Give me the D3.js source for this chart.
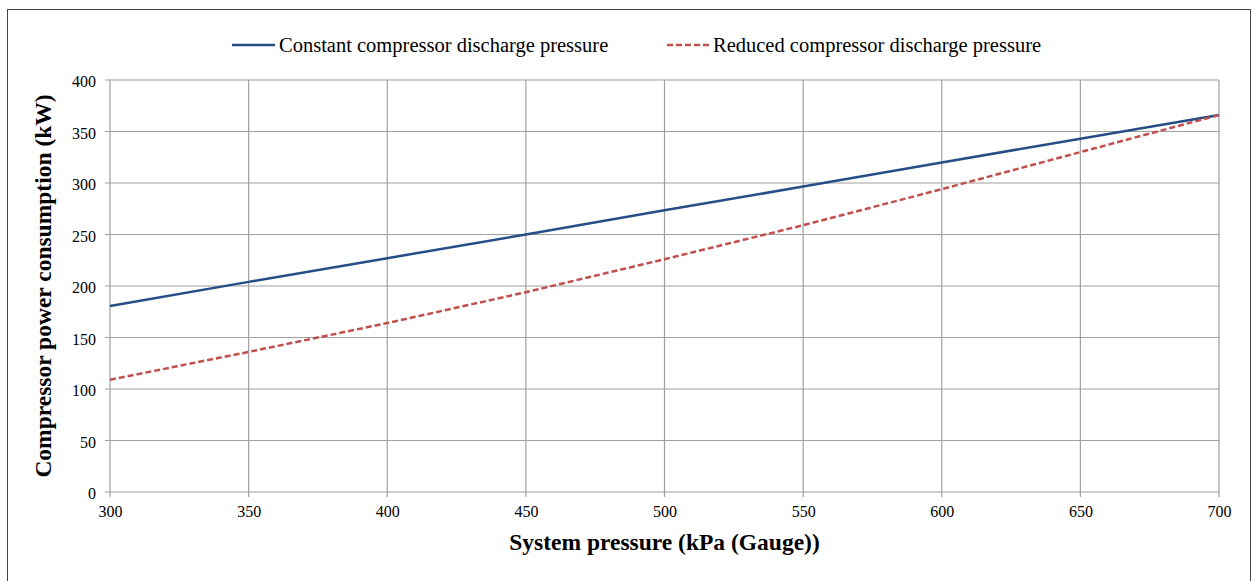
<!DOCTYPE html>
<meta charset="utf-8">
<style>
    body { margin: 0; background: #fff; }
    text { font-family: "Liberation Serif", "Times New Roman", serif; fill: #000; }
    .grid line { stroke: #a0a0a0; stroke-width: 1.2; }
</style>
<body>
<script src="https://d3js.org/d3.v7.min.js"></script>
<svg width="1260" height="581"></svg>
<script>
    // data
    var pressure = [300, 350, 400, 450, 500, 550, 600, 650, 700];
    var constantPower = [180.5, 204, 227, 250, 273.5, 296.5, 320, 343, 366];
    var reducedPower = [109, 136, 164, 194, 226, 259, 294, 330, 366];
    var xTicks = [300, 350, 400, 450, 500, 550, 600, 650, 700];
    var yTicks = [0, 50, 100, 150, 200, 250, 300, 350, 400];
    var seriesNames = ["Constant compressor discharge pressure", "Reduced compressor discharge pressure"];

    var svg = d3.select("svg");

    // outer frame
    svg.append("rect")
        .attr("x", 7.5).attr("y", 9.5)
        .attr("width", 1243).attr("height", 580)
        .attr("fill", "none").attr("stroke", "#444").attr("stroke-width", 1);

    var pLeft = 110, pRight = 1219, pTop = 80, pBottom = 492;
    var x = d3.scaleLinear().domain([300, 700]).range([pLeft, pRight]);
    var y = d3.scaleLinear().domain([0, 400]).range([pBottom, pTop]);

    // gridlines
    var grid = svg.append("g").attr("class", "grid");
    grid.selectAll(".h").data(yTicks).enter().append("line")
        .attr("x1", pLeft - 5).attr("x2", pRight)
        .attr("y1", function(d) { return y(d); }).attr("y2", function(d) { return y(d); });
    grid.selectAll(".v").data(xTicks).enter().append("line")
        .attr("x1", function(d) { return x(d); }).attr("x2", function(d) { return x(d); })
        .attr("y1", pTop).attr("y2", pBottom + 5);

    // axes (labels only, lines come from grid)
    var yAxis = svg.append("g")
        .attr("transform", "translate(96,0)")
        .call(d3.axisLeft(y).tickValues(yTicks).tickSize(0).tickPadding(0));
    yAxis.select(".domain").remove();
    yAxis.selectAll("text")
        .attr("x", 0)
        .attr("dy", "0.42em")
        .style("font-size", "16px").style("font-family", "Liberation Serif");

    var xAxis = svg.append("g")
        .attr("transform", "translate(0," + pBottom + ")")
        .call(d3.axisBottom(x).tickValues(xTicks).tickSize(0).tickPadding(14));
    xAxis.select(".domain").remove();
    xAxis.selectAll("text")
        .style("font-size", "16px").style("font-family", "Liberation Serif");

    // lines
    var line = d3.line()
        .x(function(d, i) { return x(pressure[i]); })
        .y(function(d) { return y(d); });

    svg.append("path")
        .datum(constantPower)
        .attr("d", line)
        .attr("fill", "none")
        .attr("stroke", "#254e86")
        .attr("stroke-width", 2.5);

    svg.append("path")
        .datum(reducedPower)
        .attr("d", line)
        .attr("fill", "none")
        .attr("stroke", "#c0504d")
        .attr("stroke-width", 2.5)
        .attr("stroke-dasharray", "6,3");

    // axis titles
    svg.append("text")
        .attr("x", (pLeft + pRight) / 2)
        .attr("y", 550)
        .attr("text-anchor", "middle")
        .style("font-size", "23.5px")
        .style("font-weight", "bold")
        .text("System pressure (kPa (Gauge))");

    svg.append("text")
        .attr("transform", "translate(51," + (pTop + pBottom) / 2 + ")rotate(-90)")
        .attr("text-anchor", "middle")
        .style("font-size", "23.5px")
        .style("font-weight", "bold")
        .text("Compressor power consumption (kW)");

    // legend
    var legend = svg.append("g");
    legend.append("line")
        .attr("x1", 232).attr("x2", 275).attr("y1", 45).attr("y2", 45)
        .attr("stroke", "#254e86").attr("stroke-width", 2.5);
    legend.append("text")
        .attr("x", 279).attr("y", 52)
        .style("font-size", "20.5px")
        .text(seriesNames[0]);
    legend.append("line")
        .attr("x1", 667).attr("x2", 710).attr("y1", 45).attr("y2", 45)
        .attr("stroke", "#c0504d").attr("stroke-width", 2.5)
        .attr("stroke-dasharray", "6,3");
    legend.append("text")
        .attr("x", 713).attr("y", 52)
        .style("font-size", "20.5px")
        .text(seriesNames[1]);
</script>
</body>
